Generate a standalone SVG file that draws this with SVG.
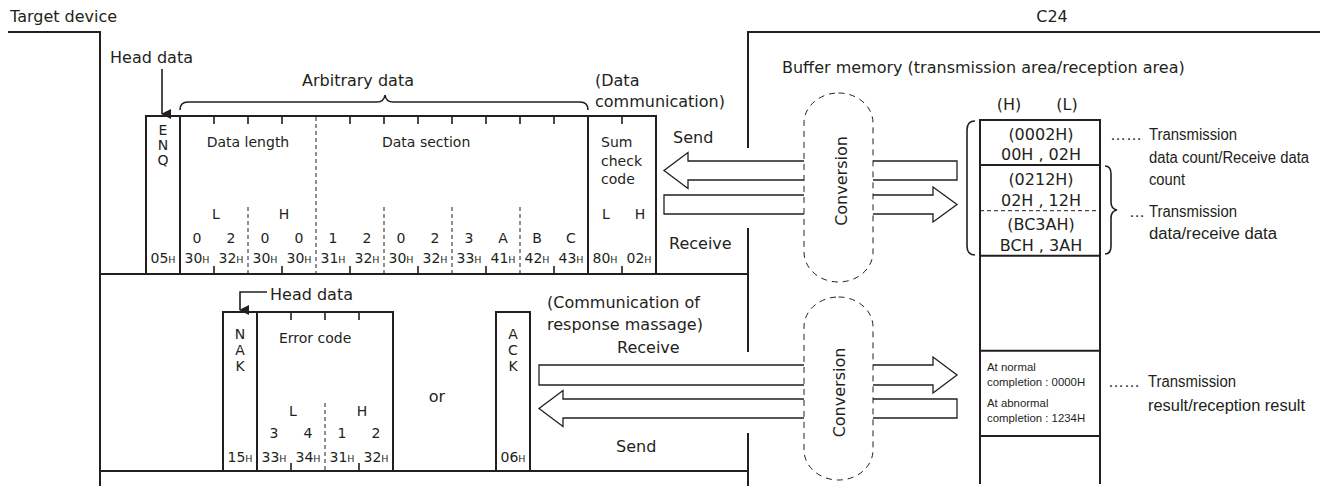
<svg xmlns="http://www.w3.org/2000/svg" width="1325" height="486" viewBox="0 0 1325 486">
<style>
.ln{stroke:#231f20;stroke-width:2;fill:none}
.tk{stroke:#231f20;stroke-width:1.6;fill:none}
.ds{stroke:#231f20;stroke-width:1;stroke-dasharray:4 3;fill:none}
.ar{fill:#fff;stroke:#231f20;stroke-width:1.3;stroke-linejoin:miter}
.cv{fill:#fff;stroke:#231f20;stroke-width:1;stroke-dasharray:6 5}
text{font-family:"DejaVu Sans",sans-serif;fill:#231f20}
.t16{font-size:16px}
.t14{font-size:14px}
.hx{font-size:14px}
.sb{font-size:9.5px}
.nr{font-family:"Liberation Sans",Arial,sans-serif;font-size:16px}
.sm{font-family:"Liberation Sans",Arial,sans-serif;font-size:11.4px}
.m{text-anchor:middle}
</style>
<defs>
<marker id="ah" markerWidth="10" markerHeight="10" refX="5" refY="9" orient="auto" markerUnits="userSpaceOnUse"><path d="M0 0 L10 0 L5 10 Z" fill="#231f20"/></marker>
</defs>

<g id="frames">
<path class="ln" d="M8 32 H100 V486"/>
<path class="ln" d="M100 274 H748 M100 471 H748"/>
<path class="ln" d="M748 148 V32 H1320 M748 228 V352 M748 433 V486"/>
<text class="t16" x="10" y="22">Target device</text>
<text class="t16 m" x="1052" y="22">C24</text>
</g>

<g id="data-frame">
<path class="ln" d="M146 274 V116 H656 V274 M180 116 V274 M588 116 V274"/>
<path class="tk" d="M214 116 v8 M248 116 v8 M282 116 v8 M350 116 v8 M384 116 v8 M418 116 v8 M452 116 v8 M486 116 v8 M520 116 v8 M554 116 v8 M622 116 v8"/>
<path class="tk" d="M214 274 v-8 M282 274 v-8 M350 274 v-8 M418 274 v-8 M486 274 v-8 M554 274 v-8 M622 274 v-8"/>
<path class="ds" d="M316 117 V274 M248 207 V274 M384 207 V274 M452 207 V274 M520 207 V274"/>
<text class="t14 m" x="163" y="135">E</text>
<text class="t14 m" x="163" y="150">N</text>
<text class="t14 m" x="163" y="165">Q</text>
<text class="t14 m" x="248" y="147">Data length</text>
<text class="t14" x="382" y="147">Data section</text>
<text class="t14" x="601" y="147">Sum</text>
<text class="t14" x="601" y="165.5">check</text>
<text class="t14" x="601" y="184">code</text>
<text class="t14 m" x="216" y="219">L</text>
<text class="t14 m" x="284" y="219">H</text>
<text class="t14 m" x="606" y="219">L</text>
<text class="t14 m" x="640" y="219">H</text>
<g class="t14">
<text class="m" x="197" y="243">0</text><text class="m" x="231" y="243">2</text><text class="m" x="265" y="243">0</text><text class="m" x="299" y="243">0</text>
<text class="m" x="333" y="243">1</text><text class="m" x="367" y="243">2</text><text class="m" x="401" y="243">0</text><text class="m" x="435" y="243">2</text>
<text class="m" x="469" y="243">3</text><text class="m" x="503" y="243">A</text><text class="m" x="537" y="243">B</text><text class="m" x="571" y="243">C</text>
</g>
<g class="hx">
<text class="m" x="163" y="263">05<tspan class="sb">H</tspan></text>
<text class="m" x="197" y="263">30<tspan class="sb">H</tspan></text>
<text class="m" x="231" y="263">32<tspan class="sb">H</tspan></text>
<text class="m" x="265" y="263">30<tspan class="sb">H</tspan></text>
<text class="m" x="299" y="263">30<tspan class="sb">H</tspan></text>
<text class="m" x="333" y="263">31<tspan class="sb">H</tspan></text>
<text class="m" x="367" y="263">32<tspan class="sb">H</tspan></text>
<text class="m" x="401" y="263">30<tspan class="sb">H</tspan></text>
<text class="m" x="435" y="263">32<tspan class="sb">H</tspan></text>
<text class="m" x="469" y="263">33<tspan class="sb">H</tspan></text>
<text class="m" x="503" y="263">41<tspan class="sb">H</tspan></text>
<text class="m" x="537" y="263">42<tspan class="sb">H</tspan></text>
<text class="m" x="571" y="263">43<tspan class="sb">H</tspan></text>
<text class="m" x="605" y="263">80<tspan class="sb">H</tspan></text>
<text class="m" x="639" y="263">02<tspan class="sb">H</tspan></text>
</g>
<text class="t16" x="110" y="63">Head data</text>
<text class="t16" x="302" y="86">Arbitrary data</text>
<text class="t16" x="595" y="86">(Data</text>
<text class="t16" x="595" y="106.5">communication)</text>
<path class="tk" d="M180 110 Q180 102 188 102 H377 Q384 102 385 95 Q386 102 393 102 H580 Q588 102 588 110" stroke-width="1.3"/>
</g>

<g id="response-frame">
<path class="ln" d="M223 471 V312 H393 V471 M257 312 V471 M496 471 V312 H530 V471"/>
<path class="tk" d="M291 312 v8 M325 312 v8 M359 312 v8 M291 471 v-8 M359 471 v-8"/>
<path class="ds" d="M325 403 V471"/>
<text class="t14 m" x="240" y="338.5">N</text>
<text class="t14 m" x="240" y="354.5">A</text>
<text class="t14 m" x="240" y="370.5">K</text>
<text class="t14 m" x="513" y="338.5">A</text>
<text class="t14 m" x="513" y="354.5">C</text>
<text class="t14 m" x="513" y="370.5">K</text>
<text class="t14" x="279" y="343">Error code</text>
<text class="t14 m" x="293" y="415.5">L</text>
<text class="t14 m" x="362" y="415.5">H</text>
<text class="t14 m" x="274" y="438">3</text>
<text class="t14 m" x="308" y="438">4</text>
<text class="t14 m" x="342" y="438">1</text>
<text class="t14 m" x="376" y="438">2</text>
<g class="hx">
<text class="m" x="240" y="462">15<tspan class="sb">H</tspan></text>
<text class="m" x="274" y="462">33<tspan class="sb">H</tspan></text>
<text class="m" x="308" y="462">34<tspan class="sb">H</tspan></text>
<text class="m" x="342" y="462">31<tspan class="sb">H</tspan></text>
<text class="m" x="376" y="462">32<tspan class="sb">H</tspan></text>
<text class="m" x="513" y="462">06<tspan class="sb">H</tspan></text>
</g>
<text class="t16 m" x="437" y="401.5">or</text>
<text class="t16" x="270" y="300">Head data</text>
<text class="t16" x="547" y="308">(Communication of</text>
<text class="t16" x="547" y="330">response massage)</text>
</g>

<g id="connectors">
<path class="tk" d="M162 69 V114" marker-end="url(#ah)"/>
<path class="tk" d="M267 292 H240 V310" marker-end="url(#ah)"/>
<polygon class="ar" points="957,161 688,161 688,152.5 664,170.5 688,188.5 688,180 957,180"/>
<polygon class="ar" points="664,195 933,195 933,187 957,204.5 933,222 933,214 664,214"/>
<polygon class="ar" points="539,365 933,365 933,357 957,375 933,393 933,385 539,385"/>
<polygon class="ar" points="957,399 563,399 563,390.5 539,408.5 563,426.5 563,418 957,418"/>
<text class="t16" x="673" y="143">Send</text>
<text class="t16" x="669" y="248.5">Receive</text>
<text class="t16" x="617" y="353">Receive</text>
<text class="t16" x="616" y="452">Send</text>
</g>

<g id="conversion-upper">
<rect class="cv" x="804" y="93" width="69" height="189" rx="34.5" ry="30"/>
<text class="t16 m" transform="translate(847,181) rotate(-90)">Conversion</text>
</g>
<g id="conversion-lower">
<rect class="cv" x="804" y="297" width="69" height="183" rx="34.5" ry="30"/>
<text class="t16 m" transform="translate(845,392.5) rotate(-90)">Conversion</text>
</g>

<g id="buffer-memory">
<text class="t16" x="782" y="73">Buffer memory (transmission area/reception area)</text>
<text class="t16 m" x="1009" y="110">(H)</text>
<text class="t16 m" x="1067" y="110">(L)</text>
<path class="ln" d="M980 484 V120 H1100 V484 M980 165 H1100 M980 255.7 H1100 M980 350.7 H1100 M980 436 H1100"/>
<path class="ds" d="M980 210.7 H1100"/>
<path class="tk" stroke-width="1.3" d="M975 121 Q967 121 967 130 V246 Q967 255 975 255"/>
<path class="tk" stroke-width="1.3" d="M1105 166 Q1111 166 1111 174 V202 Q1111 209 1117 210 Q1111 211 1111 218 V246 Q1111 254 1105 254"/>
<text class="t16 m" x="1041" y="139.5">(0002H)</text>
<text class="t16 m" x="1041" y="160">00H , 02H</text>
<text class="t16 m" x="1041" y="184.5">(0212H)</text>
<text class="t16 m" x="1041" y="205.5">02H , 12H</text>
<text class="t16 m" x="1041" y="229.5">(BC3AH)</text>
<text class="t16 m" x="1041" y="250.5">BCH , 3AH</text>
<text class="sm" x="987" y="370.5">At normal</text>
<text class="sm" x="987" y="386">completion : 0000H</text>
<text class="sm" x="987" y="406.5">At abnormal</text>
<text class="sm" x="987" y="422">completion : 1234H</text>
</g>

<g id="annotations">
<text class="nr" x="1110" y="140">……<tspan x="1149" textLength="88" lengthAdjust="spacingAndGlyphs">Transmission</tspan></text>
<text class="nr" x="1149" y="163" textLength="160" lengthAdjust="spacingAndGlyphs">data count/Receive data</text>
<text class="nr" x="1149" y="185" textLength="36" lengthAdjust="spacingAndGlyphs">count</text>
<text class="nr" x="1129" y="216.5">…<tspan x="1149" textLength="88" lengthAdjust="spacingAndGlyphs">Transmission</tspan></text>
<text class="nr" x="1149" y="238.5" textLength="128" lengthAdjust="spacingAndGlyphs">data/receive data</text>
<text class="nr" x="1108" y="387">……<tspan x="1148" textLength="88" lengthAdjust="spacingAndGlyphs">Transmission</tspan></text>
<text class="nr" x="1148" y="411" textLength="157" lengthAdjust="spacingAndGlyphs">result/reception result</text>
</g>
</svg>
